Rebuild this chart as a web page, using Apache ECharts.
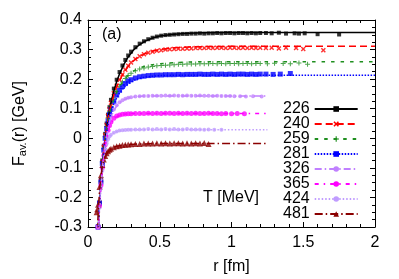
<!DOCTYPE html>
<html><head><meta charset="utf-8">
<script src="https://cdn.jsdelivr.net/npm/echarts@6/dist/echarts.min.js"></script>
<style>html,body{margin:0;padding:0;background:#fff}#c{width:399px;height:279px}</style>
</head><body><div id="c"></div>
<script>
const temps = ['226','240','259','281','326','365','424','481'];
const rData = [0.07,0.08,0.09,0.10,0.11,0.12,0.13,0.14,0.15,0.16,0.18,0.20,0.22,0.24,0.26,0.28,0.30,0.33,0.36,0.39,0.42,0.45,0.48,0.51,0.54,0.57,0.60,0.63,0.66,0.69,0.72,0.75,0.78,0.81,0.84,0.87,0.90,0.93,0.96,0.99,1.02,1.05,1.08,1.11,1.14,1.17,1.20];
const d226 = [-0.298,-0.215,-0.14,-0.075,-0.025,0.015,0.05,0.08,0.105,0.13,0.168,0.198,0.224,0.246,0.265,0.28,0.293,0.308,0.32,0.328,0.335,0.34,0.344,0.347,0.349,0.35,0.351,0.352,0.353,0.353,0.354,0.354,0.355,0.354,0.355,0.355,0.356,0.355,0.356,0.356,0.355,0.356,0.356,0.355,0.356,0.355,0.356];
const d240 = [-0.30,-0.22,-0.145,-0.08,-0.03,0.01,0.045,0.075,0.098,0.12,0.152,0.178,0.198,0.216,0.232,0.245,0.256,0.268,0.277,0.284,0.289,0.293,0.296,0.298,0.30,0.301,0.302,0.303,0.303,0.304,0.304,0.305,0.305,0.305,0.306,0.305,0.306,0.306,0.305,0.306,0.306,0.305,0.306,0.305,0.306,0.305,0.306];
const d259 = [-0.30,-0.22,-0.145,-0.08,-0.035,0.005,0.04,0.068,0.09,0.108,0.136,0.158,0.176,0.19,0.202,0.212,0.22,0.228,0.234,0.238,0.241,0.243,0.245,0.246,0.247,0.248,0.249,0.25,0.25,0.251,0.251,0.251,0.252,0.252,0.252,0.253,0.252,0.253,0.252,0.253,0.253,0.252,0.253,0.253,0.252,0.253,0.253];
const d281 = [-0.30,-0.22,-0.148,-0.085,-0.04,0.0,0.032,0.058,0.08,0.098,0.125,0.146,0.162,0.175,0.185,0.193,0.198,0.204,0.208,0.21,0.212,0.213,0.214,0.214,0.215,0.215,0.215,0.216,0.215,0.216,0.216,0.216,0.217,0.216,0.216,0.217,0.216,0.217,0.216,0.217,0.216,0.217,0.217,0.216,0.217,0.216,0.217];
const d326 = [-0.30,-0.225,-0.155,-0.095,-0.05,-0.015,0.015,0.04,0.06,0.075,0.097,0.112,0.122,0.129,0.134,0.137,0.139,0.141,0.142,0.143,0.143,0.144,0.144,0.144,0.145,0.144,0.145,0.144,0.144,0.145,0.144,0.144,0.145,0.144,0.144,0.143,0.144,0.143,0.143,0.143,0.142];
const d365 = [-0.30,-0.23,-0.16,-0.1,-0.058,-0.022,0.005,0.027,0.043,0.055,0.068,0.075,0.079,0.081,0.082,0.083,0.083,0.084,0.084,0.084,0.085,0.084,0.085,0.084,0.085,0.085,0.084,0.085,0.084,0.085,0.084,0.085,0.084,0.084,0.085,0.084,0.084,0.083,0.084];
const d424 = [-0.30,-0.235,-0.168,-0.11,-0.07,-0.04,-0.018,-0.003,0.006,0.012,0.019,0.023,0.026,0.027,0.028,0.029,0.029,0.03,0.03,0.03,0.031,0.03,0.031,0.03,0.031,0.03,0.031,0.03,0.03,0.031,0.03,0.03,0.03,0.029,0.03];
const d481 = [-0.225,-0.165,-0.125,-0.09,-0.072,-0.06,-0.051,-0.044,-0.039,-0.035,-0.03,-0.027,-0.025,-0.023,-0.022,-0.021,-0.02,-0.019,-0.019,-0.018,-0.018,-0.018,-0.017,-0.018,-0.017,-0.018,-0.017,-0.017,-0.018,-0.017,-0.018];
const t226 = [[1.24,0.356],[1.28,0.355],[1.33,0.357],[1.38,0.354],[1.44,0.355],[1.47,0.354],[1.51,0.355],[1.6,0.352],[1.75,0.351]];
const t240 = [[1.24,0.305],[1.28,0.306],[1.33,0.304],[1.38,0.306],[1.45,0.305],[1.5,0.302],[1.64,0.298]];
const t259 = [[1.25,0.252],[1.3,0.254],[1.36,0.253],[1.41,0.252],[1.47,0.255],[1.53,0.25]];
const t281 = [[1.24,0.217],[1.29,0.216],[1.34,0.217],[1.41,0.219]];
const t326 = [[1.06,0.142],[1.1,0.141],[1.15,0.142],[1.21,0.141]];
const t365 = [[1.0,0.083],[1.04,0.084],[1.09,0.083]];
const t424 = [[0.88,0.029],[0.93,0.029]];
const t481 = [[0.06,-0.25],[0.065,-0.24],[0.75,-0.017],[0.78,-0.018],[0.81,-0.016],[0.84,-0.019]];
const rFit = [0.065,0.07,0.08,0.09,0.10,0.11,0.12,0.13,0.14,0.15,0.16,0.18,0.20,0.22,0.25,0.28,0.32,0.36,0.40,0.45,0.50,0.60,0.70,0.80,1.00,1.25,1.50,2.00];
const f226 = [-0.39,-0.32,-0.225,-0.15,-0.09,-0.04,0.0,0.035,0.068,0.095,0.12,0.16,0.192,0.218,0.25,0.275,0.3,0.317,0.329,0.339,0.346,0.352,0.355,0.357,0.358,0.358,0.358,0.358];
const f240 = [-0.39,-0.32,-0.225,-0.15,-0.09,-0.04,0.0,0.035,0.066,0.09,0.112,0.146,0.174,0.196,0.222,0.243,0.263,0.277,0.287,0.295,0.300,0.306,0.309,0.310,0.311,0.311,0.311,0.311];
const f259 = [-0.39,-0.32,-0.225,-0.15,-0.09,-0.042,-0.003,0.03,0.058,0.082,0.102,0.132,0.156,0.175,0.197,0.213,0.228,0.238,0.244,0.249,0.252,0.256,0.258,0.259,0.259,0.259,0.259,0.259];
const f281 = [-0.39,-0.32,-0.225,-0.152,-0.095,-0.048,-0.01,0.022,0.048,0.07,0.088,0.116,0.137,0.153,0.171,0.184,0.196,0.203,0.207,0.21,0.212,0.213,0.213,0.213,0.213,0.213,0.213,0.213];
const f326 = [-0.39,-0.325,-0.23,-0.16,-0.1,-0.056,-0.02,0.01,0.035,0.055,0.071,0.094,0.109,0.12,0.13,0.136,0.14,0.142,0.143,0.143,0.143,0.143,0.143,0.143,0.143,0.143];
const f365 = [-0.39,-0.325,-0.235,-0.165,-0.105,-0.062,-0.027,0.0,0.022,0.038,0.05,0.064,0.072,0.077,0.081,0.083,0.084,0.084,0.084,0.084,0.084,0.084,0.084,0.084,0.084,0.084];
const f424 = [-0.39,-0.33,-0.24,-0.172,-0.115,-0.075,-0.045,-0.022,-0.007,0.003,0.01,0.018,0.022,0.025,0.027,0.028,0.029,0.029,0.029,0.029,0.029,0.029,0.029,0.029,0.029,0.029];
const f481 = [-0.33,-0.26,-0.18,-0.13,-0.095,-0.075,-0.062,-0.053,-0.046,-0.04,-0.036,-0.03,-0.027,-0.025,-0.022,-0.021,-0.02,-0.019,-0.019,-0.018,-0.018,-0.018,-0.018,-0.018,-0.018,-0.018];

const dataVals = [d226,d240,d259,d281,d326,d365,d424,d481];
const tails = [t226,t240,t259,t281,t326,t365,t424,t481];
const fits = [f226,f240,f259,f281,f326,f365,f424,f481];

const FONT = 'Liberation Sans';
const XSYM = 'path://M2,0L5,3L8,0L10,2L7,5L10,8L8,10L5,7L2,10L0,8L3,5L0,2Z';
const PSYM = 'path://M4,0H6V4H10V6H6V10H4V6H0V4H4Z';
const styles = [
  {color:'#000000', dash:'solid', sym:'rect', size:4},
  {color:'#ff0000', dash:[7,4], sym:XSYM, size:5},
  {color:'#1f8f1f', dash:[3.5,6], sym:PSYM, size:5},
  {color:'#0000ff', dash:[1.5,1.5], sym:'rect', size:5},
  {color:'#c080ff', dash:[7,3,1.5,3], sym:'circle', size:4},
  {color:'#ff00ff', dash:[4,5,1.5,5], sym:'circle', size:5},
  {color:'#c09cff', dash:[1.5,2], sym:'circle', size:4},
  {color:'#8b0000', dash:[8,3,1.5,3], sym:'triangle', size:6}
];

const series = [];
temps.forEach((t, i) => {
  const st = styles[i];
  const pts = dataVals[i].map((v, k) => [rData[k], v]).concat(tails[i]);
  series.push({
    type:'scatter', name:t+' data', data:pts, symbol:st.sym, symbolSize:st.size,
    itemStyle:{color:st.color}, silent:true, clip:true
  });
  series.push({
    type:'line', name:t, data:fits[i].map((v, k) => [rFit[k], v]),
    showSymbol:false, symbol:st.sym, symbolSize:st.size, smooth:false,
    lineStyle:{color:st.color, width:1.5, type:st.dash},
    itemStyle:{color:st.color}, silent:true, clip:true
  });
});

const axisCommon = {
  axisLine:{show:true, onZero:false, lineStyle:{color:'#000', width:1}},
  axisTick:{show:true, inside:true, length:5, lineStyle:{color:'#000'}},
  splitLine:{show:false}
};

const chart = echarts.init(document.getElementById('c'), null, {renderer:'canvas'});
chart.setOption({
  animation:false,
  backgroundColor:'#fff',
  grid:{left:88, top:20, width:287, height:207, outerBoundsMode:'none'},
  xAxis:[
    Object.assign({type:'value', min:0, max:2, interval:0.5, position:'bottom',
      name:'r [fm]', nameLocation:'middle', nameGap:32,
      nameTextStyle:{fontFamily:FONT, fontSize:16, color:'#000'},
      axisLabel:{fontFamily:FONT, fontSize:16, color:'#000', margin:8}}, axisCommon,
      {minorTick:{show:true, splitNumber:5, length:3, lineStyle:{color:'#000'}}}),
    Object.assign({type:'value', min:0, max:2, interval:0.5, position:'top',
      axisLabel:{show:false}}, axisCommon,
      {minorTick:{show:true, splitNumber:5, length:3, lineStyle:{color:'#000'}}})
  ],
  yAxis:[
    Object.assign({type:'value', min:-0.3, max:0.4, interval:0.1, position:'left',
      name:'{f|F}{s|av.}{f|(r) [GeV]}', nameLocation:'middle', nameGap:60, nameRotate:90,
      nameTextStyle:{fontFamily:FONT, color:'#000',
        rich:{f:{fontFamily:FONT, fontSize:16, color:'#000', lineHeight:20, verticalAlign:'bottom'},
              s:{fontFamily:FONT, fontSize:11, color:'#000', lineHeight:20, verticalAlign:'bottom'}}},
      axisLabel:{fontFamily:FONT, fontSize:16, color:'#000', margin:6}}, axisCommon,
      {minorTick:{show:true, splitNumber:4, length:3, lineStyle:{color:'#000'}}}),
    Object.assign({type:'value', min:-0.3, max:0.4, interval:0.1, position:'right',
      axisLabel:{show:false}}, axisCommon,
      {minorTick:{show:true, splitNumber:4, length:3, lineStyle:{color:'#000'}}})
  ],
  legend:{
    data:temps, orient:'vertical', left:278, top:96, align:'right',
    itemWidth:43, itemHeight:7, itemGap:-1,
    textStyle:{fontFamily:FONT, fontSize:16, color:'#000'},
    selectedMode:false
  },
  graphic:[
    {type:'text', left:102, top:27, style:{text:'(a)', font:'16px "Liberation Sans"', fill:'#000'}},
    {type:'text', left:203, top:190, style:{text:'T [MeV]', font:'16px "Liberation Sans"', fill:'#000'}}
  ],
  series:series
});
</script></body></html>
